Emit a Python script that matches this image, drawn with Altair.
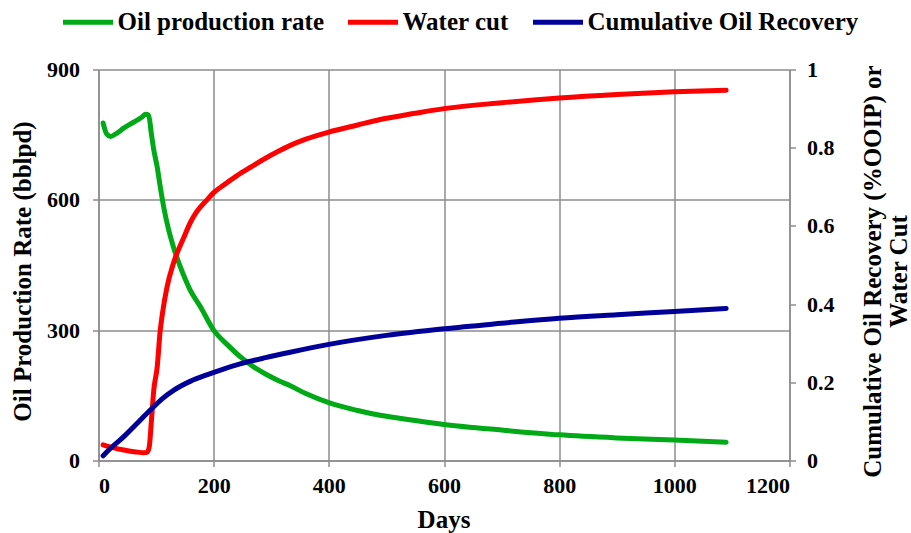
import altair as alt
import pandas as pd

# Oil production rate (bblpd) vs. days
oil_days = [8, 14, 21, 30, 45, 60, 75, 82, 87, 92, 96, 102, 107, 113, 122, 130,
            142, 159, 177, 200, 225, 246, 270, 290, 314, 333, 360, 400, 450, 489,
            550, 600, 700, 800, 900, 1000, 1090]
oil_rate = [777, 752, 746, 752, 766, 778, 790, 797, 795, 750, 715, 675, 632, 585,
            530, 492, 446, 393, 354, 300, 265, 239, 215, 199, 183, 172, 154, 133,
            115, 104, 92, 83, 70, 59, 52, 47, 42]

# Water cut (fraction) vs. days
wc_days = [8, 25, 44, 65, 79, 84, 88, 92, 96, 102, 107, 111, 119, 130, 148, 160,
           170, 188, 200, 217, 240, 264, 290, 314, 333, 360, 400, 450, 489, 550,
           600, 700, 800, 900, 1000, 1090]
water_cut = [0.040, 0.033, 0.027, 0.022, 0.020, 0.021, 0.034, 0.104, 0.18, 0.24,
             0.33, 0.376, 0.444, 0.504, 0.57, 0.61, 0.635, 0.666, 0.685, 0.704,
             0.728, 0.75, 0.773, 0.792, 0.806, 0.822, 0.840, 0.858, 0.872, 0.888,
             0.900, 0.915, 0.927, 0.936, 0.943, 0.947]

# Cumulative oil recovery (fraction of OOIP) vs. days
rec_days = [8, 20, 44, 65, 90, 110, 131, 160, 188, 217, 246, 290, 333, 400, 500,
            600, 700, 800, 900, 1000, 1090]
recovery = [0.012, 0.030, 0.061, 0.092, 0.129, 0.157, 0.180, 0.203, 0.219, 0.234,
            0.247, 0.263, 0.277, 0.297, 0.320, 0.337, 0.351, 0.364, 0.373, 0.381,
            0.389]

SERIES = ["Oil production rate", "Water cut", "Cumulative Oil Recovery"]
COLORS = ["#00AA17", "#FF0000", "#000099"]
FONT = "Liberation Serif"
GRID = "#8C8C8C"

oil_df = pd.DataFrame({"day": oil_days, "value": oil_rate, "series": SERIES[0]})
frac_df = pd.concat([
    pd.DataFrame({"day": wc_days, "value": water_cut, "series": SERIES[1]}),
    pd.DataFrame({"day": rec_days, "value": recovery, "series": SERIES[2]}),
], ignore_index=True)

x_enc = alt.X(
    "day:Q",
    scale=alt.Scale(domain=[0, 1200], nice=False),
    axis=alt.Axis(values=[0, 200, 400, 600, 800, 1000, 1200], format="d",
                  title="Days", titleX=345, titleY=59, titleBaseline="middle",
                  titleFontSize=25, labelPadding=9),
)

color_enc = alt.Color(
    "series:N",
    scale=alt.Scale(domain=SERIES, range=COLORS),
    legend=alt.Legend(
        title=None, orient="none", direction="horizontal",
        legendX=-38, legendY=-75, padding=0,
        symbolType="stroke", symbolSize=2500, symbolStrokeWidth=5,
        labelFont=FONT, labelFontSize=25, labelFontWeight="bold",
        labelColor="black", labelOffset=2, columnPadding=13, labelLimit=0,
    ),
)

oil_line = alt.Chart(oil_df).mark_line(strokeWidth=5, strokeCap="round",
                                       interpolate="monotone").encode(
    x=x_enc,
    y=alt.Y("value:Q", scale=alt.Scale(domain=[0, 900], nice=False),
            axis=alt.Axis(orient="left", values=[0, 300, 600, 900],
                          title="Oil Production Rate (bblpd)",
                          titleAngle=270, titleX=-76, titleY=201.5,
                          titleAlign="center", titleBaseline="middle",
                          titleFontSize=25, labelPadding=13)),
    color=color_enc,
)

frac_lines = alt.Chart(frac_df).mark_line(strokeWidth=5, strokeCap="round",
                                          interpolate="monotone").encode(
    x=x_enc,
    y=alt.Y("value:Q", scale=alt.Scale(domain=[0, 1], nice=False),
            axis=alt.Axis(orient="right", values=[0, 0.2, 0.4, 0.6, 0.8, 1],
                          format="~g", grid=False,
                          title=["Cumulative Oil Recovery (%OOIP)  or", "Water Cut"],
                          titleAngle=270, titleX=83, titleY=201.5,
                          titleAlign="center", titleBaseline="middle",
                          titleFontSize=25, titleLineHeight=26, labelPadding=11)),
    color=color_enc,
)

chart = (
    alt.layer(oil_line, frac_lines)
    .resolve_scale(y="independent")
    .properties(
        width=691, height=391,
        autosize=alt.AutoSizeParams(type="none"),
        padding={"left": 98.5, "top": 69.5, "right": 121.5, "bottom": 72.5},
    )
    .configure_view(stroke="transparent")
    .configure_axis(
        labelFont=FONT, labelFontSize=22, labelFontWeight="bold", labelColor="black",
        titleFont=FONT, titleFontWeight="bold", titleColor="black",
        domainColor=GRID, domainWidth=1.5, tickColor=GRID, tickWidth=1.5, tickSize=6,
        gridColor=GRID, gridWidth=1.5, gridOpacity=1,
    )
    .configure_axisX(grid=True)
    .configure_axisY(grid=True)
)

chart.save("out.html", embed_options={"renderer": "svg", "actions": False})
